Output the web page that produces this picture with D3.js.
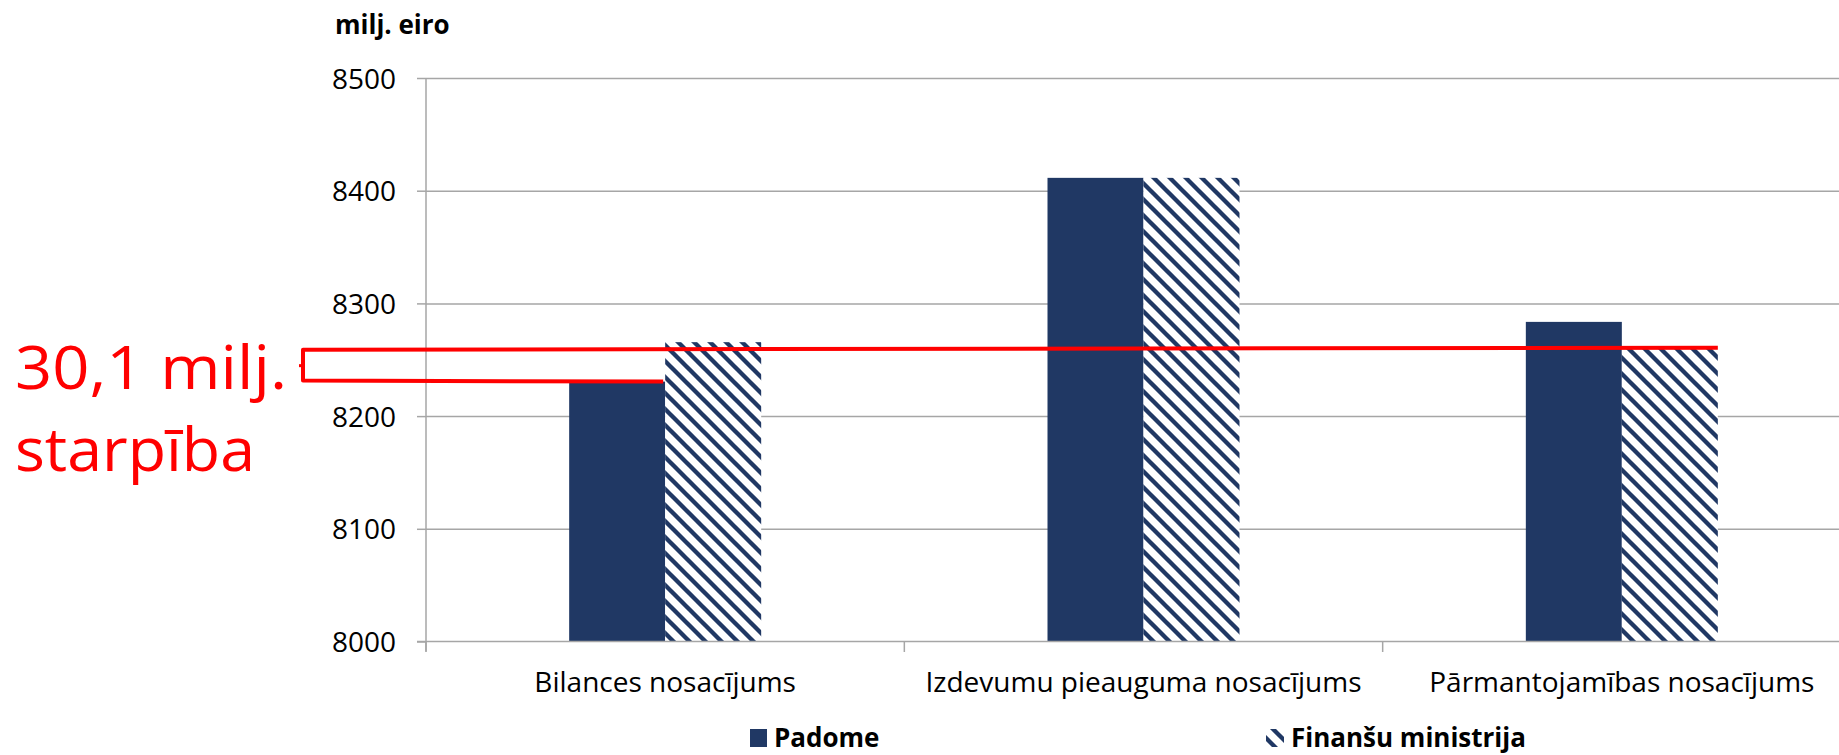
<!DOCTYPE html>
<html>
<head>
<meta charset="utf-8">
<script src="https://cdn.jsdelivr.net/npm/d3@7"></script>
<style>
  html, body { margin: 0; padding: 0; background: #ffffff; }
  svg { display: block; font-family: 'Open Sans', 'Noto Sans', sans-serif; }
</style>
</head>
<body>
<svg id="chart" width="1839" height="755"></svg>
<script>
// ---- data ----
const categories = ["Bilances nosacījums", "Izdevumu pieauguma nosacījums", "Pārmantojamības nosacījums"];
const seriesNames = ["Padome", "Finanšu ministrija"];
const padomeValues = [8230.6, 8411.4, 8283.6];
const fmValues = [8265.6, 8411.4, 8260.7];
const yTicks = [8000, 8100, 8200, 8300, 8400, 8500];
const unitLabel = "milj. eiro";
const annotationText = ["30,1 milj.", "starpība"];

// ---- layout ----
const plotLeft = 426, plotRight = 1861, plotTop = 78, plotBottom = 641.5;
const barW = 96;
const navy = "#203864";
const gridColor = "#A6A6A6";
const red = "#FF0000";

const svg = d3.select("#chart");

const defs = svg.append("defs");
const pat = defs.append("pattern")
  .attr("id", "hatch")
  .attr("patternUnits", "userSpaceOnUse")
  .attr("width", 16).attr("height", 16);
pat.append("rect").attr("width", 16).attr("height", 16).attr("fill", "#ffffff");
pat.append("path")
  .attr("d", "M-4,-4 L20,20 M-4,12 L4,20 M12,-4 L20,4")
  .attr("stroke", navy).attr("stroke-width", 4.3).attr("fill", "none");

const x = d3.scaleBand().domain(categories).range([plotLeft, plotRight]).paddingInner(0).paddingOuter(0);
const y = d3.scaleLinear().domain([8000, 8500]).range([plotBottom, plotTop]);

// gridlines
const grid = svg.append("g").attr("transform", `translate(${plotLeft},0)`)
  .call(d3.axisLeft(y).tickValues(yTicks.slice(1)).tickSize(-(plotRight - plotLeft)).tickFormat(""));
grid.select(".domain").remove();
grid.selectAll("line").attr("stroke", gridColor).attr("stroke-width", 1.5);

// y axis
const yAxis = svg.append("g").attr("transform", `translate(${plotLeft},0)`)
  .call(d3.axisLeft(y).tickValues(yTicks).tickSize(9).tickPadding(21).tickFormat(d3.format("d")));
yAxis.select(".domain").attr("stroke", gridColor).attr("stroke-width", 1.5)
  .attr("d", `M0,${plotTop}V${plotBottom + 10}`);
yAxis.selectAll(".tick line").attr("stroke", gridColor).attr("stroke-width", 1.5);
yAxis.selectAll(".tick text").attr("font-size", 28).attr("fill", "#000")
  .attr("font-family", "'Open Sans', sans-serif").attr("dy", "0.36em");

// bars
const bars = svg.append("g");
categories.forEach((c, i) => {
  const cx = x(c) + x.bandwidth() / 2;
  bars.append("rect")
    .attr("x", cx - barW).attr("width", barW)
    .attr("y", y(padomeValues[i])).attr("height", y(8000) - y(padomeValues[i]))
    .attr("fill", navy);
  bars.append("rect")
    .attr("x", cx).attr("width", barW)
    .attr("y", y(fmValues[i])).attr("height", y(8000) - y(fmValues[i]))
    .attr("fill", "url(#hatch)");
});

// x axis
const xAxis = svg.append("g").attr("transform", `translate(0,${plotBottom})`)
  .call(d3.axisBottom(x).tickSize(0).tickPadding(0));
xAxis.select(".domain").attr("stroke", gridColor).attr("stroke-width", 1.5)
  .attr("d", `M${plotLeft - 9},0H${plotRight}`);
xAxis.selectAll(".tick text").attr("font-size", 28).attr("fill", "#000")
  .attr("font-family", "'Open Sans', sans-serif")
  .attr("y", 50).attr("dy", 0);
const bounds = categories.map(c => x(c)).concat([plotRight]);
xAxis.selectAll(".btick").data(bounds).enter().append("line")
  .attr("class", "btick")
  .attr("x1", d => d).attr("x2", d => d).attr("y1", 0).attr("y2", 10.5)
  .attr("stroke", gridColor).attr("stroke-width", 1.5);

// unit label
svg.append("text").attr("x", 335).attr("y", 34)
  .attr("font-size", 26).attr("font-weight", "bold").attr("fill", "#000")
  .text(unitLabel);

// legend
const legY = 747;
const leg = svg.append("g");
leg.append("rect").attr("x", 750).attr("y", legY - 18).attr("width", 17).attr("height", 18).attr("fill", navy);
leg.append("text").attr("x", 774).attr("y", legY).attr("font-size", 26).attr("font-weight", "bold")
  .attr("fill", "#000").text(seriesNames[0]);
leg.append("rect").attr("x", 1266).attr("y", legY - 18).attr("width", 18).attr("height", 18).attr("fill", "url(#hatch)");
leg.append("text").attr("x", 1291).attr("y", legY).attr("font-size", 26).attr("font-weight", "bold")
  .attr("fill", "#000").text(seriesNames[1]);

// red annotation
const bracketX = 303;
const topY = y(fmValues[2]);
const botY = y(padomeValues[0]);
const fmRight = x(categories[2]) + x.bandwidth() / 2 + barW;
const padRight = x(categories[0]) + x.bandwidth() / 2;
svg.append("path")
  .attr("d", `M${fmRight},${topY} L${bracketX},${topY + 2} L${bracketX},${botY - 1} L${padRight - 2},${botY}`)
  .attr("fill", "none").attr("stroke", red).attr("stroke-width", 4).attr("stroke-linejoin", "round");
svg.append("line").attr("x1", bracketX - 4).attr("x2", bracketX)
  .attr("y1", (topY + botY) / 2 + 1).attr("y2", (topY + botY) / 2 + 1)
  .attr("stroke", red).attr("stroke-width", 3);
svg.append("text").attr("x", 15).attr("y", 389).attr("font-size", 60).attr("fill", red)
  .attr("textLength", 272).attr("lengthAdjust", "spacingAndGlyphs")
  .text(annotationText[0]);
svg.append("text").attr("x", 15).attr("y", 471).attr("font-size", 60).attr("fill", red)
  .attr("textLength", 240).attr("lengthAdjust", "spacingAndGlyphs")
  .text(annotationText[1]);
</script>
</body>
</html>
